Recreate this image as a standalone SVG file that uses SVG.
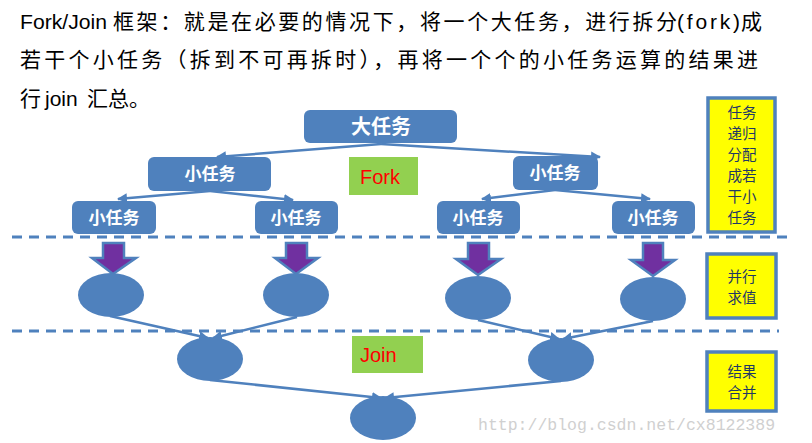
<svg xmlns="http://www.w3.org/2000/svg" width="812" height="443" viewBox="0 0 812 443">
<defs>
<style>
.hd{font-family:"Noto Sans CJK SC","Noto Sans",sans-serif;font-size:21px;fill:#000}
.lat{font-family:"Liberation Sans","Noto Sans",sans-serif;font-size:21px;fill:#000}
.box{fill:#4F81BD}
.bt{font-family:"Noto Sans CJK SC",sans-serif;font-weight:bold;fill:#fff;text-anchor:middle}
.con{stroke:#4F81BD;stroke-width:2.5;fill:none}
.dash{stroke:#4F81BD;stroke-width:3;stroke-dasharray:10 7;fill:none}
.dot{fill:#4F81BD}
.arr{fill:#7030A0;stroke:#4F81BD;stroke-width:2.5;stroke-linejoin:miter}
.yb{fill:#FFFF00;stroke:#4F81BD;stroke-width:3.5}
.yt{font-family:"Noto Sans CJK SC",sans-serif;font-size:14.5px;fill:#1F3864;text-anchor:middle}
.lab{fill:#92D050}
.lt{font-family:"Liberation Sans","Noto Sans",sans-serif;font-size:20px;fill:#FF0000}
</style>
<marker id="ah" viewBox="0 0 10 10" refX="9" refY="5" markerWidth="4" markerHeight="4" orient="auto" markerUnits="strokeWidth">
<path d="M0,0 L10,5 L0,10 z" fill="#4F81BD"/>
</marker>
</defs>
<rect width="812" height="443" fill="#fff"/>

<g id="header">
<text class="lat" x="20" y="29" textLength="87" lengthAdjust="spacingAndGlyphs">Fork/Join</text>
<text class="hd" x="113" y="29" textLength="564" lengthAdjust="spacing">框架：就是在必要的情况下，将一个大任务，进行拆分</text>
<text class="lat" x="677" y="29" textLength="63" lengthAdjust="spacing">(fork)</text>
<text class="hd" x="741" y="29">成</text>
<text class="hd" x="20" y="67" textLength="738" lengthAdjust="spacing">若干个小任务（拆到不可再拆时），再将一个个的小任务运算的结果进</text>
<text class="hd" x="20" y="106">行</text>
<text class="lat" x="45" y="106">join</text>
<text class="hd" x="87" y="106">汇总。</text>
</g>

<g id="connectors">
<line class="con" x1="381" y1="144" x2="217" y2="157" marker-end="url(#ah)"/>
<line class="con" x1="381" y1="144" x2="600" y2="157" marker-end="url(#ah)"/>
<line class="con" x1="210" y1="191" x2="118" y2="199" marker-end="url(#ah)"/>
<line class="con" x1="210" y1="191" x2="293" y2="200" marker-end="url(#ah)"/>
<line class="con" x1="555" y1="190" x2="482" y2="199" marker-end="url(#ah)"/>
<line class="con" x1="555" y1="190" x2="650" y2="199" marker-end="url(#ah)"/>
<line class="con" x1="110" y1="316" x2="208" y2="338" marker-end="url(#ah)"/>
<line class="con" x1="297" y1="317" x2="213" y2="338" marker-end="url(#ah)"/>
<line class="con" x1="478" y1="320" x2="559" y2="339" marker-end="url(#ah)"/>
<line class="con" x1="653" y1="321" x2="563" y2="339" marker-end="url(#ah)"/>
<line class="con" x1="210" y1="380" x2="381" y2="398" marker-end="url(#ah)"/>
<line class="con" x1="561" y1="381" x2="385" y2="398" marker-end="url(#ah)"/>
</g>

<g id="separators">
<line class="dash" x1="12" y1="237" x2="792" y2="237"/>
<line class="dash" x1="12" y1="331" x2="779" y2="331"/>
</g>

<g id="big-task">
<rect class="box" x="304" y="110" width="153" height="33" rx="6"/>
<text class="bt" x="381" y="134" font-size="20">大任务</text>
</g>
<g id="sub-left">
<rect class="box" x="148" y="157" width="123" height="34" rx="6"/>
<text class="bt" x="210" y="180" font-size="17">小任务</text>
</g>
<g id="sub-right">
<rect class="box" x="513" y="156" width="85" height="34" rx="6"/>
<text class="bt" x="555" y="179" font-size="17">小任务</text>
</g>
<g id="leaf1">
<rect class="box" x="72" y="201" width="84" height="33" rx="6"/>
<text class="bt" x="114" y="224" font-size="17">小任务</text>
</g>
<g id="leaf2">
<rect class="box" x="255" y="201" width="83" height="33" rx="6"/>
<text class="bt" x="296" y="224" font-size="17">小任务</text>
</g>
<g id="leaf3">
<rect class="box" x="437" y="201" width="83" height="33" rx="6"/>
<text class="bt" x="478" y="224" font-size="17">小任务</text>
</g>
<g id="leaf4">
<rect class="box" x="612" y="201" width="83" height="33" rx="6"/>
<text class="bt" x="653" y="224" font-size="17">小任务</text>
</g>

<g id="fork-label">
<rect class="lab" x="349" y="157" width="69" height="38"/>
<text class="lt" x="360" y="184">Fork</text>
</g>
<g id="join-label">
<rect class="lab" x="352" y="336" width="71" height="37"/>
<text class="lt" x="360" y="362">Join</text>
</g>

<g id="down-arrows">
<polygon class="arr" points="103,243 124,243 124,258 136,258 113,274 92,258 103,258"/>
<polygon class="arr" points="286,243 307,243 307,258 318,258 296,274 275,258 286,258"/>
<polygon class="arr" points="468,243 489,243 489,259 501,259 478,275 456,259 468,259"/>
<polygon class="arr" points="643,243 663,243 663,260 675,260 653,276 631,260 643,260"/>
</g>

<g id="calc1"><ellipse class="dot" cx="111" cy="295" rx="33" ry="22"/></g>
<g id="calc2"><ellipse class="dot" cx="296" cy="295" rx="33" ry="22"/></g>
<g id="calc3"><ellipse class="dot" cx="478" cy="298" rx="33" ry="22"/></g>
<g id="calc4"><ellipse class="dot" cx="653" cy="299" rx="33" ry="22"/></g>
<g id="join1"><ellipse class="dot" cx="210" cy="359" rx="33" ry="22"/></g>
<g id="join2"><ellipse class="dot" cx="561" cy="360" rx="33" ry="22"/></g>
<g id="result"><ellipse class="dot" cx="383" cy="418" rx="33" ry="22"/></g>

<g id="note-fork">
<rect class="yb" x="708" y="98" width="67" height="134"/>
<text class="yt" x="742" y="117.5">任务</text>
<text class="yt" x="742" y="138.5">递归</text>
<text class="yt" x="742" y="159.5">分配</text>
<text class="yt" x="742" y="180.5">成若</text>
<text class="yt" x="742" y="201.5">干小</text>
<text class="yt" x="742" y="222.5">任务</text>
</g>
<g id="note-parallel">
<rect class="yb" x="707" y="254" width="69" height="64"/>
<text class="yt" x="742" y="281.5">并行</text>
<text class="yt" x="742" y="302.5">求值</text>
</g>
<g id="note-join">
<rect class="yb" x="707" y="352" width="69" height="59"/>
<text class="yt" x="742" y="376.5">结果</text>
<text class="yt" x="742" y="397.5">合并</text>
</g>

<text x="478" y="430" font-family="Liberation Mono, monospace" font-size="16.5" fill="#d0d0d0">http://blog.csdn.net/cx8122389</text>
</svg>
